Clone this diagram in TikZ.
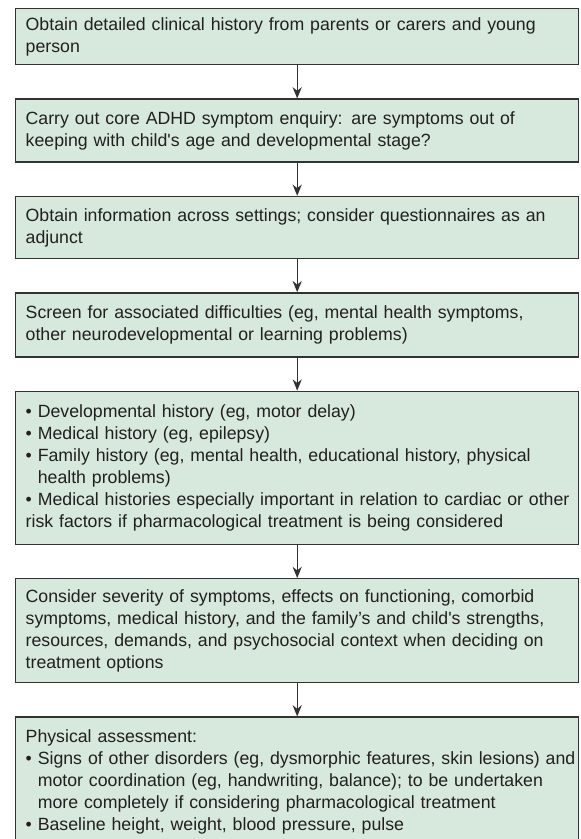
\documentclass[tikz,border=0pt]{standalone}
\usepackage{fontspec}
\setmainfont{Liberation Sans}
\usetikzlibrary{arrows.meta,positioning}
\definecolor{boxfill}{RGB}{214,233,220}
\definecolor{boxline}{RGB}{50,50,50}
\definecolor{txt}{RGB}{35,31,32}
\newcommand{\bul}{\textbullet\ }
\newcommand{\ind}{\hphantom{\textbullet\ }}

\begin{document}
\begin{tikzpicture}[
  box/.style={rectangle, draw=boxline, line width=1pt, fill=boxfill, text=txt,
    text width=13.575cm, inner xsep=0.25cm, align=left,
    font=\fontsize{12.6}{15.6}\selectfont, minimum height=#1},
  box/.default=1.45cm,
  arr/.style={-{Stealth[length=8pt,width=6.5pt]}, line width=0.8pt, draw=boxline},
  node distance=0.825cm
]
\useasboundingbox (0,0) rectangle (14.525,-20.975);
\node[box=1.4cm, anchor=north west] (hist) at (0.375,-0.2) {Obtain detailed clinical history from parents or carers and young\\person};
\node[box=1.575cm, below=of hist] (core) {Carry out core ADHD symptom enquiry: are symptoms out of\\keeping with child\textquotesingle s age and developmental stage?};
\node[box=1.55cm, below=of core] (info) {Obtain information across settings; consider questionnaires as an\\adjunct};
\node[box=1.6cm, below=of info] (screen) {Screen for associated difficulties (eg, mental health symptoms,\\other neurodevelopmental or learning problems)};
\node[box=3.825cm, below=of screen] (histories) {\bul Developmental history (eg, motor delay)\\
  \bul Medical history (eg, epilepsy)\\
  \bul Family history (eg, mental health, educational history, physical\\
  \ind health problems)\\
  \mbox{\bul Medical histories especially important in relation to cardiac or other}\\
  risk factors if pharmacological treatment is being considered};
\node[box=2.6cm, below=of histories] (severity) {Consider severity of symptoms, effects on functioning, comorbid\\
  \mbox{symptoms, medical history, and the family’s and child\textquotesingle s strengths,}\\
  resources, demands, and psychosocial context when deciding on\\
  treatment options};
\node[box=3.225cm, below=of severity] (physical) {Physical assessment:\\
  \mbox{\bul Signs of other disorders (eg, dysmorphic features, skin lesions) and}\\
  \ind motor coordination (eg, handwriting, balance); to be undertaken\\
  \ind more completely if considering pharmacological treatment\\
  \bul Baseline height, weight, blood pressure, pulse};

\draw[arr] (hist) -- (core);
\draw[arr] (core) -- (info);
\draw[arr] (info) -- (screen);
\draw[arr] (screen) -- (histories);
\draw[arr] (histories) -- (severity);
\draw[arr] (severity) -- (physical);
\end{tikzpicture}
\end{document}
